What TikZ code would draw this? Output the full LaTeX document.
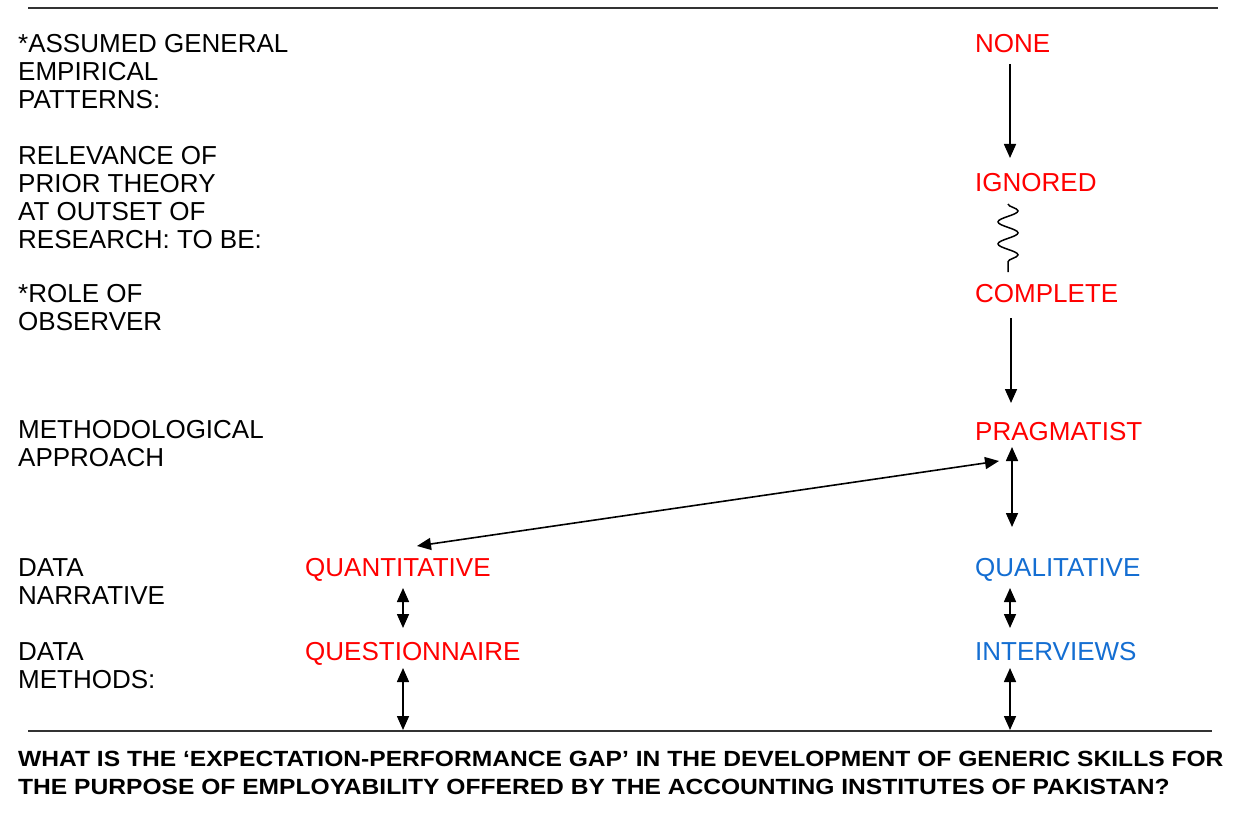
\documentclass[tikz,border=0pt]{standalone}
\usepackage{fontspec}
\setmainfont{Liberation Sans}
\usetikzlibrary{arrows.meta,decorations.pathmorphing}
\definecolor{labred}{RGB}{255,0,0}
\definecolor{labblue}{RGB}{20,110,210}
\begin{document}
\begin{tikzpicture}[x=1pt,y=-1pt,
  % multi-line headings are placed by the baseline of their last line
  rowlbl/.style={anchor=base west,inner sep=0pt,align=left,font=\fontsize{26}{28}\selectfont},
  redlbl/.style={anchor=base west,inner sep=0pt,text=labred,font=\fontsize{26}{28}\selectfont},
  bluelbl/.style={anchor=base west,inner sep=0pt,text=labblue,font=\fontsize{26}{28}\selectfont},
  link/.style={line width=1.6pt,-{Triangle[length=14pt,width=12pt]}},
  twoway/.style={line width=1.6pt,{Triangle[length=14pt,width=12pt]}-{Triangle[length=14pt,width=12pt]}},
  rule/.style={line width=1.6pt,draw=black!80}]
\useasboundingbox[fill=white] (0,0) rectangle (1234,821);

% horizontal rules
\coordinate (topL) at (28,8);
\coordinate (topR) at (1218,8);
\coordinate (botL) at (28,731);
\coordinate (botR) at (1212,731);
\draw[rule] (topL) -- (topR);
\draw[rule] (botL) -- (botR);

% row headings
\node[rowlbl] (h1) at (18,109) {*ASSUMED GENERAL\\EMPIRICAL\\PATTERNS:};
\node[rowlbl] (h2) at (18,248) {RELEVANCE OF\\PRIOR THEORY\\AT OUTSET OF\\RESEARCH: TO BE:};
\node[rowlbl] (h3) at (18,330) {*ROLE OF\\OBSERVER};
\node[rowlbl] (h4) at (18,466) {METHODOLOGICAL\\APPROACH};
\node[rowlbl] (h5) at (18,604) {DATA\\NARRATIVE};
\node[rowlbl] (h6) at (18,688) {DATA\\METHODS:};

% right column
\node[redlbl] (none) at (975,53) {NONE};
\node[redlbl] (ign) at (975,192) {IGNORED};
\node[redlbl] (comp) at (975,302) {COMPLETE};
\node[redlbl] (prag) at (975,440) {PRAGMATIST};
\node[bluelbl] (qual) at (975,576) {QUALITATIVE};
\node[bluelbl] (intv) at (975,660) {INTERVIEWS};

% left column
\node[redlbl] (quan) at (305,576) {QUANTITATIVE};
\node[redlbl] (ques) at (305,660) {QUESTIONNAIRE};

% connector ends
\coordinate (a1s) at (1010,64);   \coordinate (a1e) at (1010,158);
\coordinate (w1s) at (1008,204);  \coordinate (w1e) at (1008,272);
\coordinate (a2s) at (1011,318);  \coordinate (a2e) at (1011,403);
\coordinate (a3s) at (1012,447);  \coordinate (a3e) at (1012,527);
\coordinate (d1s) at (999,461);   \coordinate (d1e) at (417,546);
\coordinate (a4s) at (1010,588);  \coordinate (a4e) at (1010,628);
\coordinate (a5s) at (403,588);   \coordinate (a5e) at (403,628);
\coordinate (a6s) at (1010,668);  \coordinate (a6e) at (1010,730);
\coordinate (a7s) at (403,668);   \coordinate (a7e) at (403,730);

\draw[link] (a1s) -- (a1e);
\draw[line width=1.5pt,decorate,decoration={snake,segment length=22pt,amplitude=10pt}] (w1s) -- (w1e);
\draw[link] (a2s) -- (a2e);
\draw[twoway] (a3s) -- (a3e);
\draw[twoway] (d1s) -- (d1e);
\draw[twoway] (a4s) -- (a4e);
\draw[twoway] (a5s) -- (a5e);
\draw[twoway] (a6s) -- (a6e);
\draw[twoway] (a7s) -- (a7e);

% research question
\node[anchor=base west,inner sep=0pt,align=left,font=\bfseries\fontsize{22}{28}\selectfont] (q) at (18,794)
  {\scalebox{1.118}[1]{WHAT IS THE ‘EXPECTATION-PERFORMANCE GAP’ IN THE DEVELOPMENT OF GENERIC SKILLS FOR}\\
   \scalebox{1.118}[1]{THE PURPOSE OF EMPLOYABILITY OFFERED BY THE ACCOUNTING INSTITUTES OF PAKISTAN?}};
\end{tikzpicture}
\end{document}
